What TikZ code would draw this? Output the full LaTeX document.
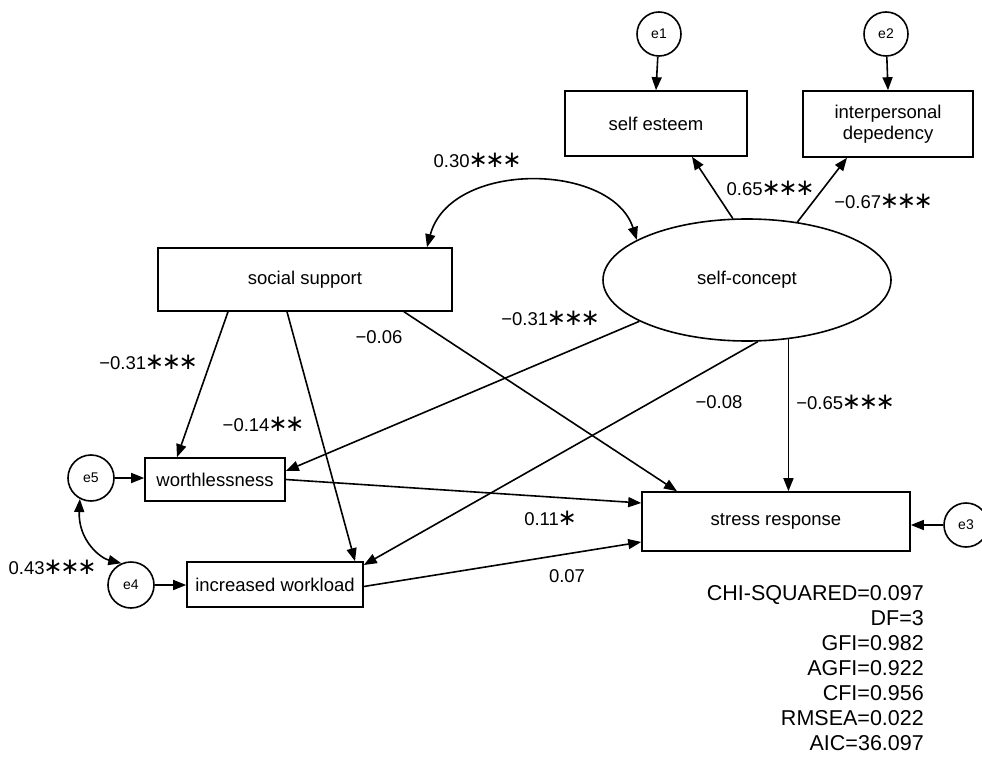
\documentclass[tikz,border=0pt]{standalone}
\usepackage{fontspec}
\setmainfont{Liberation Sans}
\newfontfamily\dvfont{DejaVu Sans}
\newcommand{\astx}{\kern-1.2pt{\dvfont\fontsize{23}{23}\selectfont ∗}\kern-1.2pt}
\usetikzlibrary{arrows.meta,shapes.geometric}
\begin{document}
\begin{tikzpicture}[x=1pt,y=-1pt,
  box/.style={draw, line width=1.6pt, inner sep=0pt, font=\fontsize{18.5}{21}\selectfont, align=center},
  err/.style={draw, circle, line width=1.6pt, minimum size=44pt, inner sep=0pt, font=\fontsize{14}{16}\selectfont},
  arr/.style={-{Triangle[length=13pt,width=10pt]}, line width=1.6pt},
  dbl/.style={{Triangle[length=13pt,width=10pt]}-{Triangle[length=13pt,width=10pt]}, line width=1.6pt},
  coef/.style={font=\fontsize{18.5}{22}\selectfont, inner sep=0pt}]
\useasboundingbox (0,0) rectangle (982,767);
\fill[white] (0,0) rectangle (982,767);
% nodes
\node[box, minimum width=182pt, minimum height=65pt] (se) at (656,123.5) {self esteem};
\node[box, minimum width=170pt, minimum height=66pt] (ip) at (888,124) {interpersonal\\depedency};
\node[box, minimum width=294pt, minimum height=63pt] (ss) at (305,279.5) {social support};
\node[draw, ellipse, line width=1.6pt, inner sep=0pt, minimum width=288pt, minimum height=122pt, font=\fontsize{18.5}{21}\selectfont] (sc) at (747,280) {self-concept};
\node[box, minimum width=268pt, minimum height=59pt] (sr) at (776,521.5) {stress response};
\node[box, minimum width=140pt, minimum height=43pt] (wo) at (215,479.5) {worthlessness};
\node[box, minimum width=176pt, minimum height=45pt] (iw) at (275,584.5) {increased workload};
\node[err] (e1) at (659,34) {e1};
\node[err] (e2) at (886,34) {e2};
\node[err] (e3) at (966,525) {e3};
\node[err, minimum size=46pt] (e5) at (91,478) {e5};
\node[err, minimum size=46pt] (e4) at (131,585) {e4};
% error arrows
\draw[arr] (e1) -- (se.north);
\draw[arr] (e2) -- (ip.north);
\draw[arr] (e3.west) -- (e3.west -| sr.east);
\draw[arr] (e5.east) -- (e5.east -| wo.west);
\draw[arr] (e4.east) -- (e4.east -| iw.west);
% measurement
\draw[arr] (sc.103) -- ([xshift=36pt]se.south);
\draw[arr] (sc.49.3) -- ([xshift=-41pt]ip.south);
% structural paths
\draw[arr] ([xshift=-77pt]ss.south) -- ([xshift=-38pt]wo.north);
\draw[arr] ([xshift=-18pt]ss.south) -- ([xshift=80pt]iw.north);
\draw[arr] ([xshift=99pt]ss.south) -- ([xshift=-99pt]sr.north);
\draw[arr] (sc.201.25) -- ([yshift=8.5pt]wo.east);
\draw[arr] (sc.-80.7) -- ([yshift=19.5pt]iw.east);
\draw[arr] (sc.-55.7) -- (sc.-55.7 |- sr.north);
\draw[arr] (wo.east) -- ([yshift=18.5pt]sr.west);
\draw[arr] ([yshift=-2pt]iw.east) -- ([yshift=-20.5pt]sr.west);
% covariances
\draw[dbl] ([xshift=122pt]ss.north) .. controls (450,160) and (612,162) .. (sc.160);
\draw[dbl] (e5.242.5) .. controls (78,540) and (100,558) .. (e4.114);
% coefficient labels
\node[coef] (l1) at (477,160) {0.30\astx\astx\astx};
\node[coef] (l2) at (770,188) {0.65\astx\astx\astx};
\node[coef] (l3) at (883,201) {−0.67\astx\astx\astx};
\node[coef] (l4) at (148,362) {−0.31\astx\astx\astx};
\node[coef] (l5) at (263,424) {−0.14\astx\astx};
\node[coef] (l6) at (379,337) {−0.06};
\node[coef] (l7) at (550,318) {−0.31\astx\astx\astx};
\node[coef] (l8) at (719,402) {−0.08};
\node[coef] (l9) at (845,402) {−0.65\astx\astx\astx};
\node[coef] (l10) at (550,518) {0.11\astx};
\node[coef] (l11) at (567,576) {0.07};
\node[coef] (l12) at (52,567) {0.43\astx\astx\astx};
% fit statistics
\node[anchor=north east, align=right, inner sep=0pt, font=\fontsize{21.5}{25}\selectfont] (fit) at (924,585)
  {CHI-SQUARED=0.097\\DF=3\\GFI=0.982\\AGFI=0.922\\CFI=0.956\\RMSEA=0.022\\AIC=36.097};
\end{tikzpicture}
\end{document}
